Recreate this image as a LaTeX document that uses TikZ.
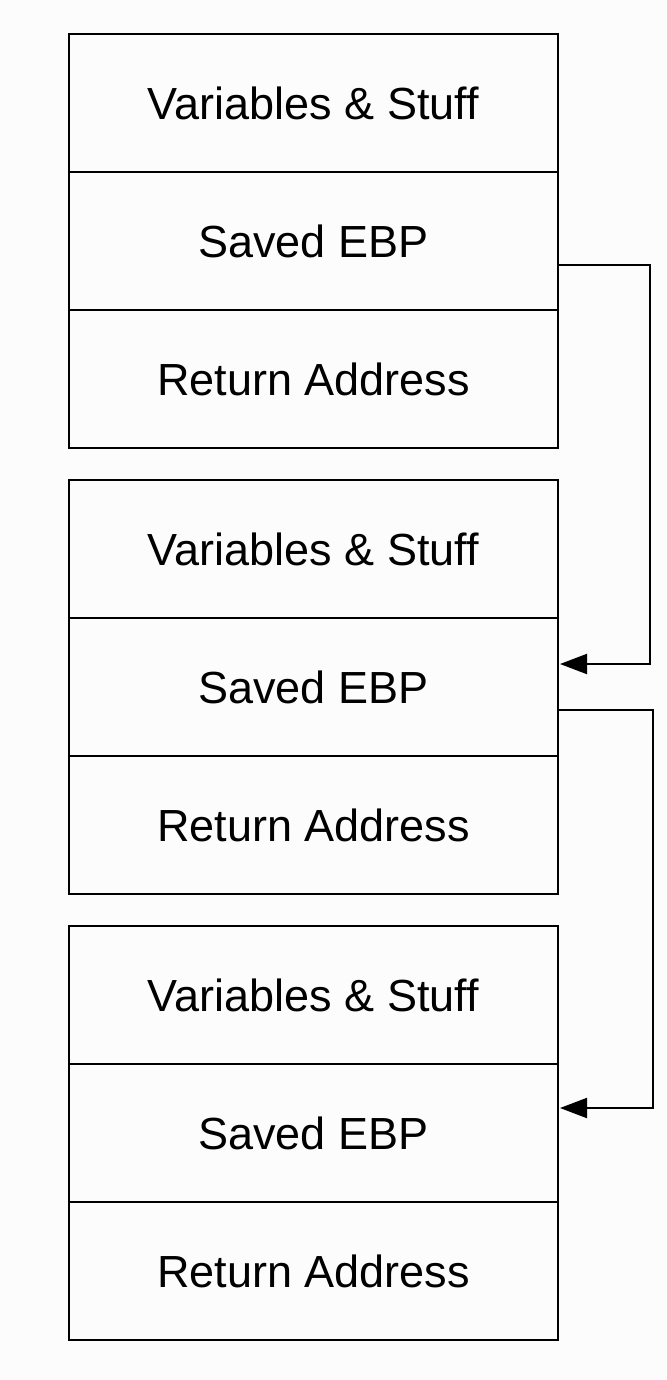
\documentclass[tikz,border=0pt]{standalone}
\usepackage{fontspec}
\setmainfont{Liberation Sans}
\usetikzlibrary{arrows.meta,positioning}

\begin{document}
\begin{tikzpicture}[x=1pt, y=-1pt,
                    cell/.style={draw, line width=2pt, minimum width=489pt, minimum height=138pt,
                                 inner sep=0pt, outer sep=0pt, font=\fontsize{45}{54}\selectfont},
                    link/.style={line width=2pt, -{Triangle[length=27pt,width=20pt]}, shorten >=2pt}]
    \useasboundingbox[fill=black!1] (0,0) rectangle (666,1380);
    % first frame
    \node[cell] (var1) at (313.5,103) {Variables \& Stuff};
    \node[cell, below=0pt of var1] (ebp1) {Saved EBP};
    \node[cell, below=0pt of ebp1] (ret1) {Return Address};
    % second frame
    \node[cell, below=32pt of ret1] (var2) {Variables \& Stuff};
    \node[cell, below=0pt of var2] (ebp2) {Saved EBP};
    \node[cell, below=0pt of ebp2] (ret2) {Return Address};
    % third frame
    \node[cell, below=32pt of ret2] (var3) {Variables \& Stuff};
    \node[cell, below=0pt of var3] (ebp3) {Saved EBP};
    \node[cell, below=0pt of ebp3] (ret3) {Return Address};

    \coordinate (out1) at ([yshift=-24pt]ebp1.east);
    \coordinate (in2) at ([yshift=23pt]ebp2.east);
    \coordinate (out2) at ([yshift=-23pt]ebp2.east);
    \coordinate (in3) at ([yshift=25pt]ebp3.east);
    \draw[link] (out1) -- ++(92,0) |- (in2);
    \draw[link] (out2) -- ++(95,0) |- (in3);
\end{tikzpicture}
\end{document}
